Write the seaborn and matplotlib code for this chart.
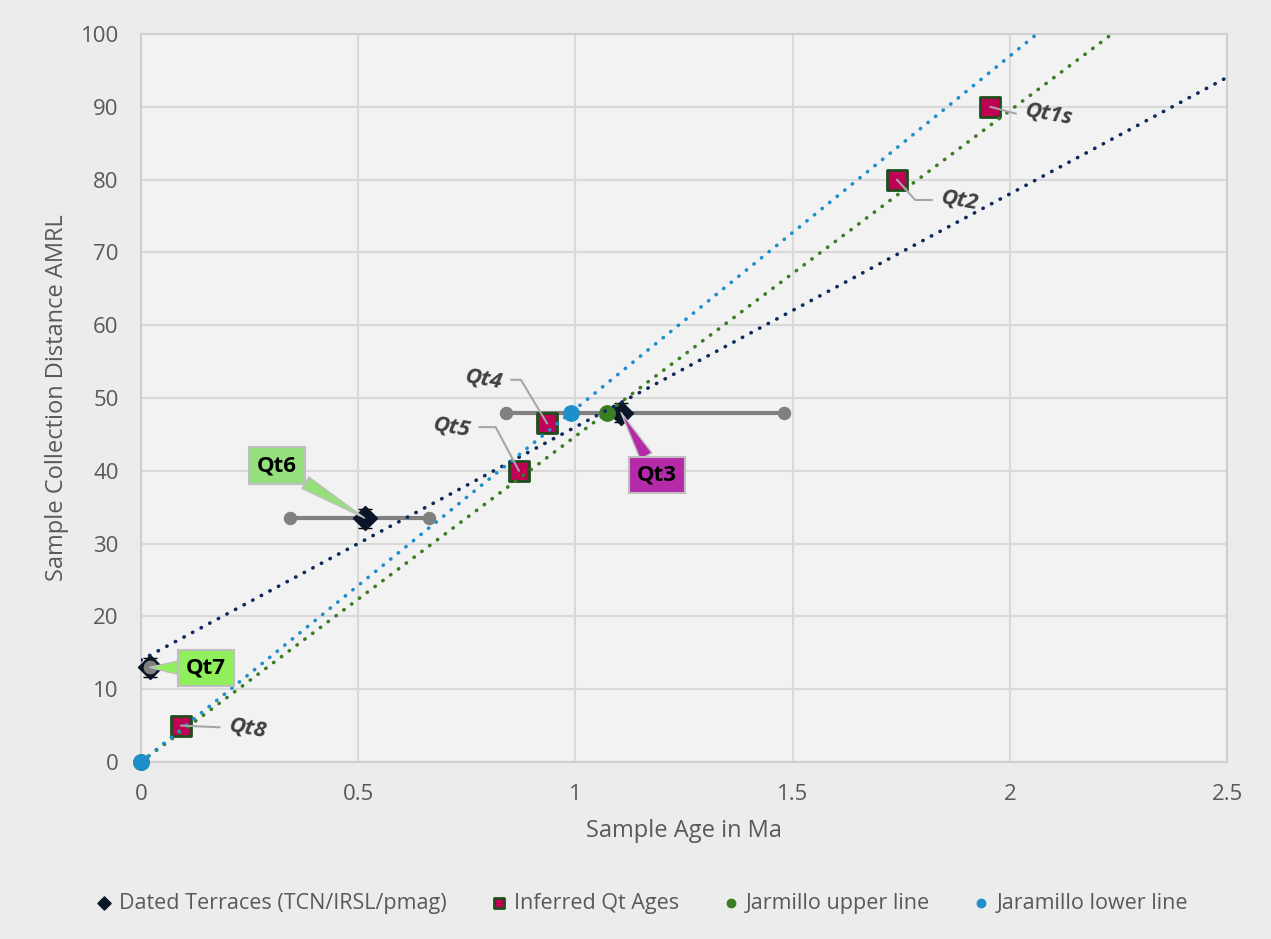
import numpy as np
import matplotlib
matplotlib.use("Agg")
import matplotlib.pyplot as plt
import seaborn as sns

# === DATA ===
dated_age = [0.02, 0.515, 1.105]
dated_dist = [13, 33.5, 48]
dated_yerr = [1.3, 1.3, 1.3]
dated_names = ["Qt7", "Qt6", "Qt3"]
age_lo = [0.02, 0.343, 0.84]
age_hi = [0.02, 0.663, 1.48]

inferred_age = [0.092, 0.87, 0.935, 1.74, 1.955]
inferred_dist = [5, 40, 46.5, 80, 90]
inferred_names = ["Qt8", "Qt5", "Qt4", "Qt2", "Qt1s"]

jar_upper_age = [0, 1.073]
jar_upper_dist = [0, 48]
jar_lower_age = [0, 0.99]
jar_lower_dist = [0, 48]

# === STYLE ===
sns.set_theme(style="white")
plt.rcParams["font.family"] = ["Open Sans", "DejaVu Sans"]
txt_col = "#595959"
navy = "#0e2a5c"
green = "#3a7d22"
blue = "#1f8fcc"
sq_fill = "#c00055"
sq_edge = "#1f4d1f"
grey_bar = "#808080"
dots = dict(linestyle=(0, (0.1, 2.6)), dash_capstyle="round", linewidth=2.6)

fig = plt.figure(figsize=(12.71, 9.39), dpi=100, facecolor="#ececec")
ax = fig.add_axes([0.1109, 0.1885, 0.8545, 0.7753])
ax.set_facecolor("#f2f2f2")
ax.set_xlim(0, 2.5)
ax.set_ylim(0, 100)

# age range bars (behind markers)
for lo, hi, d in zip(age_lo, age_hi, dated_dist):
    ax.plot([lo, hi], [d, d], color=grey_bar, lw=3, zorder=2, solid_capstyle="butt")

# vertical error caps on dated terraces
ax.errorbar(dated_age, dated_dist, yerr=dated_yerr, fmt="none", ecolor="black",
            elinewidth=1, capsize=5, zorder=3, clip_on=False)

sns.scatterplot(x=dated_age, y=dated_dist, marker="D", s=150, color="#0a1628",
                edgecolor="#0a1628", label="Dated Terraces (TCN/IRSL/pmag)", ax=ax,
                zorder=4, clip_on=False)
sns.scatterplot(x=inferred_age, y=inferred_dist, marker="s", s=190, color=sq_fill,
                edgecolor=sq_edge, linewidth=2, label="Inferred Qt Ages", ax=ax,
                zorder=4, clip_on=False)
sns.scatterplot(x=jar_upper_age, y=jar_upper_dist, marker="o", s=125, color=green,
                edgecolor=green, label="Jarmillo upper line", ax=ax, zorder=4, clip_on=False)
sns.scatterplot(x=jar_lower_age, y=jar_lower_dist, marker="o", s=125, color=blue,
                edgecolor=blue, label="Jaramillo lower line", ax=ax, zorder=4, clip_on=False)

# range end points (on top)
ax.scatter(age_lo + age_hi, dated_dist + dated_dist, s=75, color=grey_bar, zorder=5,
           clip_on=False)

# linear trendlines
for xs, ys, c in [(dated_age, dated_dist, navy), (jar_upper_age, jar_upper_dist, green),
                  (jar_lower_age, jar_lower_dist, blue)]:
    sns.regplot(x=np.array(xs, float), y=np.array(ys, float), scatter=False, ci=None,
                truncate=False, color=c, line_kws=dict(zorder=6, **dots), ax=ax)

ax.set_xlim(0, 2.5)
ax.set_ylim(0, 100)

# labels for inferred ages
lbl_pos = {"Qt8": (0.245, 4.6), "Qt5": (0.715, 46.0), "Qt4": (0.788, 52.5),
           "Qt2": (1.885, 77.2), "Qt1s": (2.09, 89.0)}
lbl_conn = {"Qt8": "arc3", "Qt5": "angle,angleA=0,angleB=-62,rad=0",
            "Qt4": "angle,angleA=0,angleB=-59,rad=0",
            "Qt2": "angle,angleA=0,angleB=-48,rad=0",
            "Qt1s": "angle,angleA=0,angleB=-15,rad=0"}
for name, x, y in zip(inferred_names, inferred_age, inferred_dist):
    ax.annotate(name, xy=(x, y), xytext=lbl_pos[name], ha="center", va="center",
                fontsize=16, fontstyle="italic", fontweight="bold", color="#404040",
                rotation=-10, zorder=7,
                arrowprops=dict(arrowstyle="-", color="#a6a6a6", lw=1.5,
                                shrinkA=3, shrinkB=0, connectionstyle=lbl_conn[name]))

# callouts for dated terraces
call_pos = {"Qt7": (0.150, 12.9), "Qt6": (0.313, 40.7), "Qt3": (1.188, 39.4)}
call_col = {"Qt7": "#8fef5c", "Qt6": "#95e07c", "Qt3": "#b42aa8"}
for name, x, y in zip(dated_names, dated_age, dated_dist):
    fc = call_col[name]
    ax.annotate(name, xy=(x, y), xytext=call_pos[name], ha="center", va="center",
                fontsize=16, fontweight="bold", color="black", zorder=8,
                bbox=dict(boxstyle="square,pad=0.35", fc=fc, ec="#bfbfbf", lw=1.5),
                arrowprops=dict(arrowstyle="wedge,tail_width=0.6", fc=fc, ec="#bfbfbf",
                                lw=1, shrinkA=0, shrinkB=0))

# axes cosmetics
ax.set_xticks(np.arange(0, 2.51, 0.5))
ax.set_yticks(np.arange(0, 101, 10))
ax.set_xticklabels(["0", "0.5", "1", "1.5", "2", "2.5"])
ax.grid(True, color="#d9d9d9", lw=1.5)
ax.set_axisbelow(True)
ax.tick_params(length=0, pad=16, labelsize=16, labelcolor=txt_col)
for sp in ax.spines.values():
    sp.set_color("#cfcfcf")
    sp.set_linewidth(1.5)
ax.set_xlabel("Sample Age in Ma", fontsize=17, color=txt_col, labelpad=10)
ax.set_ylabel("Sample Collection Distance AMRL", fontsize=17, color=txt_col, labelpad=8)

handles, labels = ax.get_legend_handles_labels()
ax.get_legend().remove()
fig.legend(handles, labels, loc="center", bbox_to_anchor=(0.505, 0.038), ncol=4,
           frameon=False, fontsize=15.5, labelcolor=txt_col, handlelength=0.8,
           handletextpad=0.3, columnspacing=2.0, markerscale=0.55)

fig.savefig("out.png", dpi=100, facecolor=fig.get_facecolor())
